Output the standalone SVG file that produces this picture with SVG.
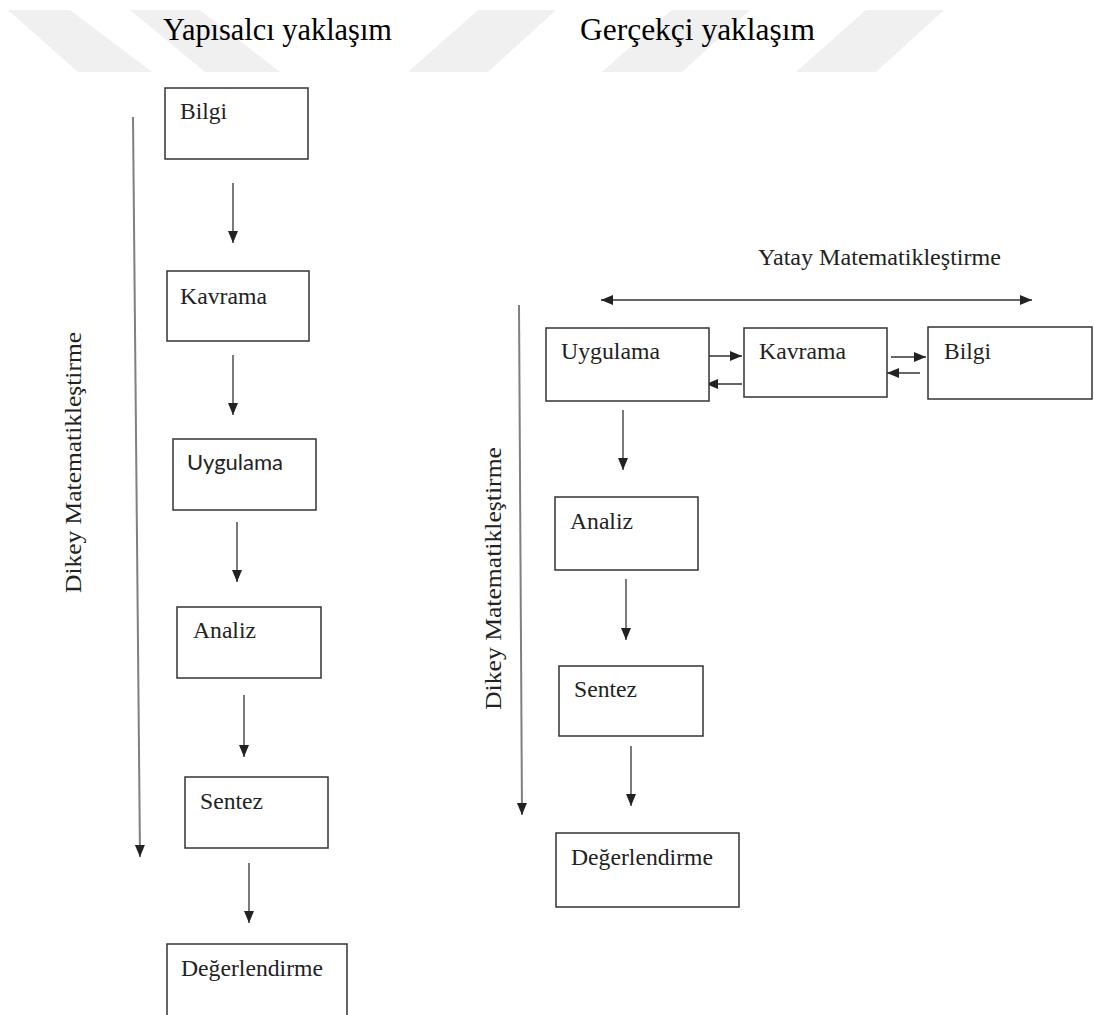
<svg xmlns="http://www.w3.org/2000/svg" width="1094" height="1015" viewBox="0 0 1094 1015">
<style>
.bg{fill:#ffffff}
.wm{fill:#f0f0f0}
.box{fill:#ffffff;stroke:#333333;stroke-width:1.5}
.lbl{font-family:"Liberation Serif","Times New Roman",serif;font-size:23px;fill:#222222}
.sans{font-family:Lato,"Liberation Sans",sans-serif;font-size:22px;fill:#222222}
.title{font-family:"Liberation Serif","Times New Roman",serif;font-size:32px;fill:#000000}
.axis{font-family:"Liberation Serif","Times New Roman",serif;font-size:24px;fill:#222222}
.arr{stroke:#333333;stroke-width:1.3;fill:none}
.long{stroke:#808080;stroke-width:2;fill:none}
</style>
<defs>
<marker id="ah" markerUnits="userSpaceOnUse" markerWidth="12" markerHeight="12" viewBox="0 0 12 10" refX="12" refY="5" orient="auto-start-reverse">
<path d="M0,0 L12,5 L0,10 Z" fill="#222222"/>
</marker>
</defs>
<rect class="bg" x="0" y="0" width="1094" height="1015"/>
<g id="watermark">
<polygon class="wm" points="8,10 70,10 152,72 78,72"/>
<polygon class="wm" points="130,10 200,10 280,72 205,72"/>
<polygon class="wm" points="478,10 556,10 488,72 408,72"/>
<polygon class="wm" points="672,10 750,10 682,72 602,72"/>
<polygon class="wm" points="866,10 944,10 876,72 796,72"/>
</g>
<g id="titles">
<text class="title" x="163" y="40" textLength="229" lengthAdjust="spacingAndGlyphs">Yapısalcı yaklaşım</text>
<text class="title" x="580" y="40" textLength="235" lengthAdjust="spacingAndGlyphs">Gerçekçi yaklaşım</text>
</g>
<g id="connectors">
<line class="long" x1="133" y1="117" x2="140" y2="857" marker-end="url(#ah)"/>
<line class="arr" x1="233" y1="183" x2="233" y2="243" marker-end="url(#ah)"/>
<line class="arr" x1="233" y1="355" x2="233" y2="415" marker-end="url(#ah)"/>
<line class="arr" x1="237" y1="522" x2="237" y2="582" marker-end="url(#ah)"/>
<line class="arr" x1="244" y1="695" x2="244" y2="757" marker-end="url(#ah)"/>
<line class="arr" x1="249" y1="863" x2="249" y2="923" marker-end="url(#ah)"/>
<line class="long" x1="519" y1="305" x2="522" y2="815" marker-end="url(#ah)"/>
<line class="arr" x1="601" y1="300" x2="1032" y2="300" marker-start="url(#ah)" marker-end="url(#ah)"/>
<line class="arr" x1="709" y1="356" x2="742" y2="356" marker-end="url(#ah)"/>
<line class="arr" x1="742" y1="384" x2="706" y2="384" marker-end="url(#ah)"/>
<line class="arr" x1="891" y1="357" x2="926" y2="357" marker-end="url(#ah)"/>
<line class="arr" x1="920" y1="373" x2="887" y2="373" marker-end="url(#ah)"/>
<line class="arr" x1="623" y1="410" x2="623" y2="470" marker-end="url(#ah)"/>
<line class="arr" x1="626" y1="579" x2="626" y2="640" marker-end="url(#ah)"/>
<line class="arr" x1="631" y1="746" x2="631" y2="806" marker-end="url(#ah)"/>
</g>
<g id="axis-labels">
<text class="axis" transform="translate(81,593) rotate(-90)" x="0" y="0" textLength="261" lengthAdjust="spacingAndGlyphs">Dikey Matematikleştirme</text>
<text class="axis" transform="translate(501,710) rotate(-90)" x="0" y="0" textLength="263" lengthAdjust="spacingAndGlyphs">Dikey Matematikleştirme</text>
<text class="lbl" x="758" y="265" textLength="243" lengthAdjust="spacingAndGlyphs">Yatay Matematikleştirme</text>
</g>
<g id="l-bilgi">
<rect class="box" x="165" y="88" width="143" height="71"/>
<text class="lbl" x="180" y="119" textLength="47" lengthAdjust="spacingAndGlyphs">Bilgi</text>
</g>
<g id="l-kavrama">
<rect class="box" x="167" y="271" width="142" height="70"/>
<text class="lbl" x="180" y="304" textLength="87" lengthAdjust="spacingAndGlyphs">Kavrama</text>
</g>
<g id="l-uygulama">
<rect class="box" x="173" y="439" width="143" height="71"/>
<text class="sans" x="187" y="470" textLength="96" lengthAdjust="spacingAndGlyphs">Uygulama</text>
</g>
<g id="l-analiz">
<rect class="box" x="177" y="607" width="144" height="71"/>
<text class="lbl" x="193" y="638" textLength="63" lengthAdjust="spacingAndGlyphs">Analiz</text>
</g>
<g id="l-sentez">
<rect class="box" x="185" y="777" width="143" height="71"/>
<text class="lbl" x="200" y="809" textLength="63" lengthAdjust="spacingAndGlyphs">Sentez</text>
</g>
<g id="l-degerlendirme">
<path class="box" d="M167,1016 L167,944 L347,944 L347,1016"/>
<text class="lbl" x="181" y="976" textLength="142" lengthAdjust="spacingAndGlyphs">Değerlendirme</text>
</g>
<g id="r-uygulama">
<rect class="box" x="546" y="328" width="163" height="73"/>
<text class="lbl" x="561" y="359" textLength="99" lengthAdjust="spacingAndGlyphs">Uygulama</text>
</g>
<g id="r-kavrama">
<rect class="box" x="744" y="328" width="143" height="69"/>
<text class="lbl" x="759" y="359" textLength="87" lengthAdjust="spacingAndGlyphs">Kavrama</text>
</g>
<g id="r-bilgi">
<rect class="box" x="928" y="327" width="164" height="72"/>
<text class="lbl" x="944" y="359" textLength="47" lengthAdjust="spacingAndGlyphs">Bilgi</text>
</g>
<g id="r-analiz">
<rect class="box" x="555" y="497" width="143" height="73"/>
<text class="lbl" x="570" y="529" textLength="63" lengthAdjust="spacingAndGlyphs">Analiz</text>
</g>
<g id="r-sentez">
<rect class="box" x="559" y="666" width="144" height="70"/>
<text class="lbl" x="574" y="697" textLength="63" lengthAdjust="spacingAndGlyphs">Sentez</text>
</g>
<g id="r-degerlendirme">
<rect class="box" x="556" y="833" width="183" height="74"/>
<text class="lbl" x="571" y="865" textLength="142" lengthAdjust="spacingAndGlyphs">Değerlendirme</text>
</g>
</svg>
